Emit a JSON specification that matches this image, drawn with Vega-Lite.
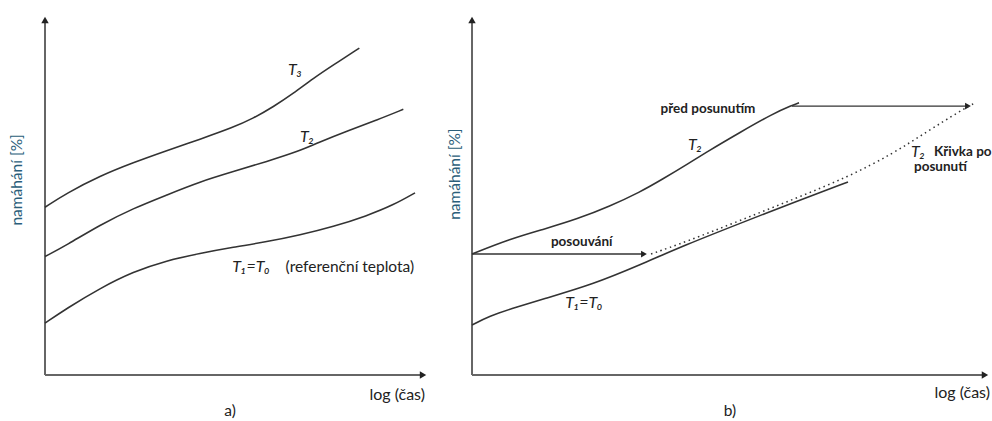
{
  "$schema": "https://vega.github.io/schema/vega-lite/v6.json",
  "padding": 0,
  "spacing": 0,
  "bounds": "flush",
  "background": "white",
  "config": {"view": {"stroke": null}, "font": "Lato"},
  "datasets": {
    "axesA": [{"x": 0, "y": 0, "x2": 0, "y2": 98.6}, {"x": 0, "y": 0, "x2": 98.7, "y2": 0}],
    "headsA": [{"x": 0, "y": 98.6, "dir": "up"}, {"x": 98.7, "y": 0, "dir": "right"}],
    "curvesA": [
      {"s": "T3", "x": 0, "y": 46.6}, {"s": "T3", "x": 5.67, "y": 50.5}, {"s": "T3", "x": 14.36, "y": 55.3}, {"s": "T3", "x": 23.05, "y": 59.0}, {"s": "T3", "x": 31.77, "y": 62.3}, {"s": "T3", "x": 40.47, "y": 65.5}, {"s": "T3", "x": 49.17, "y": 68.8}, {"s": "T3", "x": 54.39, "y": 71.3}, {"s": "T3", "x": 59.61, "y": 74.5}, {"s": "T3", "x": 64.83, "y": 78.2}, {"s": "T3", "x": 70.05, "y": 82.4}, {"s": "T3", "x": 75.27, "y": 86.1}, {"s": "T3", "x": 82.07, "y": 90.8},
      {"s": "T2", "x": 0, "y": 32.9}, {"s": "T2", "x": 5.67, "y": 36.1}, {"s": "T2", "x": 14.36, "y": 41.7}, {"s": "T2", "x": 23.05, "y": 46.3}, {"s": "T2", "x": 31.77, "y": 50.0}, {"s": "T2", "x": 40.47, "y": 53.7}, {"s": "T2", "x": 49.17, "y": 56.5}, {"s": "T2", "x": 57.88, "y": 59.3}, {"s": "T2", "x": 66.58, "y": 62.3}, {"s": "T2", "x": 70.93, "y": 64.4}, {"s": "T2", "x": 79.63, "y": 68.1}, {"s": "T2", "x": 86.61, "y": 70.8}, {"s": "T2", "x": 93.55, "y": 73.8},
      {"s": "T1", "x": 0, "y": 14.4}, {"s": "T1", "x": 5.67, "y": 18.5}, {"s": "T1", "x": 14.36, "y": 24.1}, {"s": "T1", "x": 23.05, "y": 28.7}, {"s": "T1", "x": 31.77, "y": 31.8}, {"s": "T1", "x": 40.47, "y": 33.8}, {"s": "T1", "x": 49.17, "y": 35.5}, {"s": "T1", "x": 57.88, "y": 37.0}, {"s": "T1", "x": 66.58, "y": 38.9}, {"s": "T1", "x": 75.27, "y": 41.2}, {"s": "T1", "x": 83.99, "y": 44.2}, {"s": "T1", "x": 90.94, "y": 47.2}, {"s": "T1", "x": 96.61, "y": 50.6}
    ],
    "italicA": [{"x": 65.3, "y": 84.7, "text": "T₃"}, {"x": 68.4, "y": 66.1, "text": "T₂"}, {"x": 53.8, "y": 30.0, "text": "T₁=T₀"}],
    "plainA": [{"x": 79.6, "y": 30.0, "text": "(referenční teplota)"}, {"x": 48.3, "y": -9.9, "text": "a)"}],
    "rightA": [{"x": 99.2, "y": -5.6, "text": "log (čas)"}],
    "ylabA": [{"x": -7.31, "y": 54.2, "text": "namáhání [%]"}],
    "axesB": [{"x": 0, "y": 0, "x2": 0, "y2": 98.6}, {"x": 0, "y": 0, "x2": 99.03, "y2": 0}],
    "headsB": [{"x": 0, "y": 98.6, "dir": "up"}, {"x": 99.03, "y": 0, "dir": "right"}],
    "arrowsB": [{"x": 61.78, "y": 74.7, "x2": 95.75, "y2": 74.7}, {"x": 0, "y": 33.6, "x2": 33.2, "y2": 33.6}],
    "innerHeadsB": [{"x": 95.75, "y": 74.7}, {"x": 33.2, "y": 33.6}],
    "curvesB": [
      {"s": "T2", "x": 0, "y": 33.6}, {"s": "T2", "x": 7.34, "y": 37.8}, {"s": "T2", "x": 14.09, "y": 40.6}, {"s": "T2", "x": 20.27, "y": 43.3}, {"s": "T2", "x": 26.64, "y": 46.9}, {"s": "T2", "x": 32.43, "y": 50.8}, {"s": "T2", "x": 36.68, "y": 54.3}, {"s": "T2", "x": 42.08, "y": 59.0}, {"s": "T2", "x": 45.37, "y": 62.0}, {"s": "T2", "x": 51.74, "y": 67.4}, {"s": "T2", "x": 58.11, "y": 72.6}, {"s": "T2", "x": 61.78, "y": 74.9}, {"s": "T2", "x": 63.13, "y": 75.6},
      {"s": "T1", "x": 0, "y": 13.9}, {"s": "T1", "x": 3.47, "y": 16.4}, {"s": "T1", "x": 7.34, "y": 18.3}, {"s": "T1", "x": 13.71, "y": 21.1}, {"s": "T1", "x": 23.36, "y": 25.2}, {"s": "T1", "x": 32.43, "y": 30.6}, {"s": "T1", "x": 41.31, "y": 36.2}, {"s": "T1", "x": 51.54, "y": 42.0}, {"s": "T1", "x": 62.36, "y": 48.1}, {"s": "T1", "x": 72.59, "y": 53.6}
    ],
    "dottedB": [{"x": 34.56, "y": 33.6}, {"x": 41.31, "y": 37.0}, {"x": 51.54, "y": 42.8}, {"x": 62.36, "y": 49.0}, {"x": 72.59, "y": 55.0}, {"x": 81.27, "y": 61.5}, {"x": 87.84, "y": 67.6}, {"x": 94.21, "y": 73.3}, {"x": 97.10, "y": 75.6}],
    "italicB": [{"x": 43.05, "y": 63.9, "text": "T₂"}, {"x": 21.6, "y": 20.0, "text": "T₁=T₀"}, {"x": 86.1, "y": 61.9, "text": "T₂"}],
    "boldCenterB": [{"x": 45.56, "y": 73.9, "text": "před posunutím"}, {"x": 21.18, "y": 37.0, "text": "posouvání"}],
    "boldLeftB": [{"x": 89.19, "y": 61.9, "text": "Křivka po"}, {"x": 85.33, "y": 57.8, "text": "posunutí"}],
    "plainB": [{"x": 49.8, "y": -9.9, "text": "b)"}],
    "rightB": [{"x": 100.0, "y": -5.0, "text": "log (čas)"}],
    "ylabB": [{"x": -3.28, "y": 55.8, "text": "namáhání [%]"}]
  },
  "hconcat": [
    {
      "width": 440,
      "height": 421,
      "encoding": {
        "x": {"field": "x", "type": "quantitative", "scale": {"domain": [-11.75, 103.13], "nice": false, "zero": false}, "axis": null},
        "y": {"field": "y", "type": "quantitative", "scale": {"domain": [-12.78, 104.17], "nice": false, "zero": false}, "axis": null}
      },
      "layer": [
        {"data": {"name": "axesA"}, "mark": {"type": "rule", "color": "#666666", "strokeWidth": 2}, "encoding": {"x2": {"field": "x2"}, "y2": {"field": "y2"}}},
        {"data": {"name": "headsA"}, "mark": {"type": "point", "filled": true, "opacity": 1, "color": "#222222", "size": 55}, "encoding": {"shape": {"field": "dir", "type": "nominal", "scale": {"domain": ["up", "right"], "range": ["triangle-up", "triangle-right"]}, "legend": null}}},
        {"data": {"name": "curvesA"}, "mark": {"type": "line", "color": "#333333", "strokeWidth": 1.6, "interpolate": "basis"}, "encoding": {"detail": {"field": "s"}}},
        {"data": {"name": "italicA"}, "mark": {"type": "text", "fontStyle": "italic", "fontSize": 16, "color": "#222222", "align": "center", "baseline": "middle"}, "encoding": {"text": {"field": "text"}}},
        {"data": {"name": "plainA"}, "mark": {"type": "text", "fontSize": 15.5, "color": "#222222", "align": "center", "baseline": "middle"}, "encoding": {"text": {"field": "text"}}},
        {"data": {"name": "rightA"}, "mark": {"type": "text", "fontSize": 16, "color": "#222222", "align": "right", "baseline": "middle"}, "encoding": {"text": {"field": "text"}}},
        {"data": {"name": "ylabA"}, "mark": {"type": "text", "fontSize": 15.5, "color": "#2b5e7a", "angle": 270, "align": "center", "baseline": "middle"}, "encoding": {"text": {"field": "text"}}}
      ]
    },
    {
      "width": 552,
      "height": 421,
      "encoding": {
        "x": {"field": "x", "type": "quantitative", "scale": {"domain": [-6.18, 100.39], "nice": false, "zero": false}, "axis": null},
        "y": {"field": "y", "type": "quantitative", "scale": {"domain": [-12.78, 104.17], "nice": false, "zero": false}, "axis": null}
      },
      "layer": [
        {"data": {"name": "axesB"}, "mark": {"type": "rule", "color": "#666666", "strokeWidth": 2}, "encoding": {"x2": {"field": "x2"}, "y2": {"field": "y2"}}},
        {"data": {"name": "headsB"}, "mark": {"type": "point", "filled": true, "opacity": 1, "color": "#222222", "size": 55}, "encoding": {"shape": {"field": "dir", "type": "nominal", "scale": {"domain": ["up", "right"], "range": ["triangle-up", "triangle-right"]}, "legend": null}}},
        {"data": {"name": "arrowsB"}, "mark": {"type": "rule", "color": "#333333", "strokeWidth": 1.4}, "encoding": {"x2": {"field": "x2"}, "y2": {"field": "y2"}}},
        {"data": {"name": "innerHeadsB"}, "mark": {"type": "point", "filled": true, "opacity": 1, "color": "#222222", "size": 45, "shape": "triangle-right"}, "encoding": {}},
        {"data": {"name": "dottedB"}, "mark": {"type": "line", "color": "#333333", "strokeWidth": 1.5, "strokeDash": [1.5, 3.5], "interpolate": "basis"}, "encoding": {}},
        {"data": {"name": "curvesB"}, "mark": {"type": "line", "color": "#333333", "strokeWidth": 1.6, "interpolate": "basis"}, "encoding": {"detail": {"field": "s"}}},
        {"data": {"name": "italicB"}, "mark": {"type": "text", "fontStyle": "italic", "fontSize": 16, "color": "#222222", "align": "center", "baseline": "middle"}, "encoding": {"text": {"field": "text"}}},
        {"data": {"name": "boldCenterB"}, "mark": {"type": "text", "fontWeight": "bold", "fontSize": 13.5, "color": "#222222", "align": "center", "baseline": "middle"}, "encoding": {"text": {"field": "text"}}},
        {"data": {"name": "boldLeftB"}, "mark": {"type": "text", "fontWeight": "bold", "fontSize": 13.5, "color": "#222222", "align": "left", "baseline": "middle"}, "encoding": {"text": {"field": "text"}}},
        {"data": {"name": "plainB"}, "mark": {"type": "text", "fontSize": 15.5, "color": "#222222", "align": "center", "baseline": "middle"}, "encoding": {"text": {"field": "text"}}},
        {"data": {"name": "rightB"}, "mark": {"type": "text", "fontSize": 16, "color": "#222222", "align": "right", "baseline": "middle"}, "encoding": {"text": {"field": "text"}}},
        {"data": {"name": "ylabB"}, "mark": {"type": "text", "fontSize": 15.5, "color": "#2b5e7a", "angle": 270, "align": "center", "baseline": "middle"}, "encoding": {"text": {"field": "text"}}}
      ]
    }
  ]
}
